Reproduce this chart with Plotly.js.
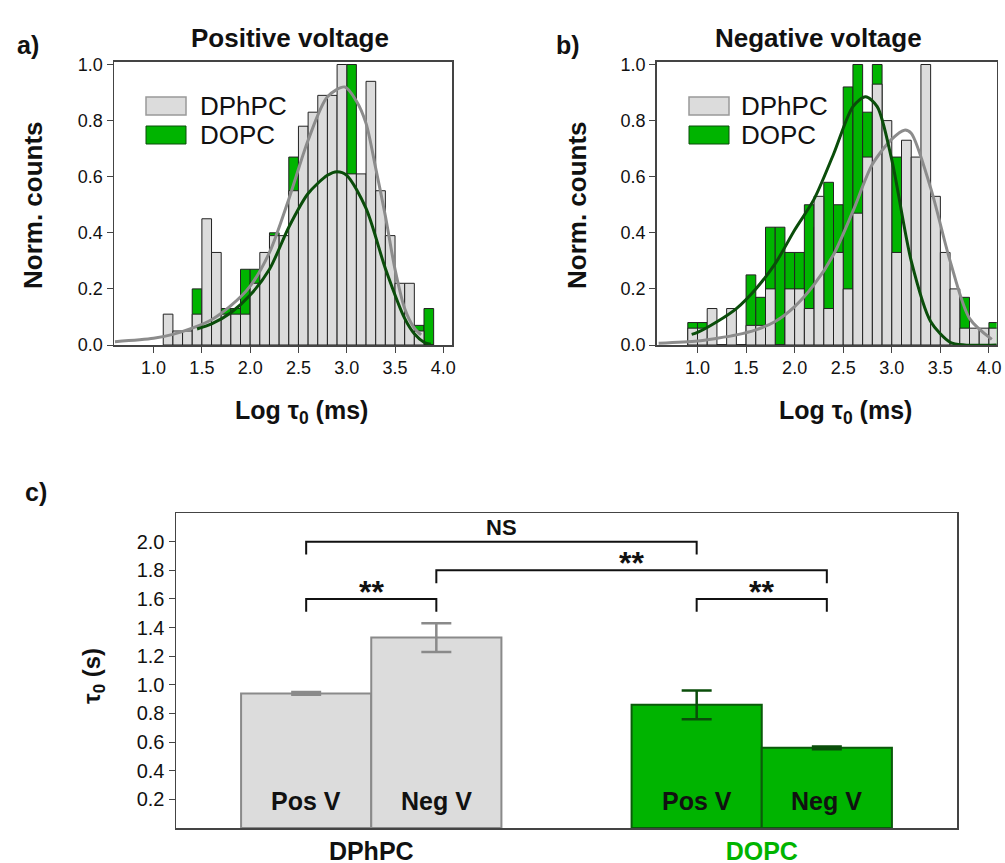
<!DOCTYPE html>
<html>
<head>
<meta charset="utf-8">
<script src="https://cdn.plot.ly/plotly-3.0.1.min.js"></script>
<style>html,body{margin:0;padding:0;background:#fff;}#chart{width:1005px;height:863px;}</style>
</head>
<body>
<div id="chart"></div>
<script>
// ---------------- data ----------------
// Panel a: positive voltage, bin centres (log tau0, ms), normalised counts
const binsA = [1.15,1.25,1.35,1.45,1.55,1.65,1.75,1.85,1.95,2.05,2.15,2.25,2.35,2.45,2.55,2.65,2.75,2.85,2.95,3.05,3.15,3.25,3.35,3.45,3.55,3.65,3.75,3.85];
const posDPhPC = [0.11,0.05,0.05,0.11,0.45,0.33,0.11,0.11,0.11,0.22,0.33,0.39,0.39,0.55,0.78,0.83,0.89,0.89,1.00,0.61,0.61,0.94,0.55,0.39,0.22,0.22,0.05,0.00];
const posDOPC  = [0,0,0,0.20,0,0,0.13,0.13,0.27,0.27,0.20,0.40,0.33,0.67,0.47,0.53,0.60,0.47,0.67,1.00,0.47,0.40,0.33,0.20,0.13,0.07,0.07,0.13];
const fitPosDPhPCx = [0.6,1.0,1.2,1.4,1.6,1.8,2.0,2.2,2.4,2.6,2.8,2.98,3.1,3.2,3.3,3.4,3.5,3.6,3.7,3.77];
const fitPosDPhPCy = [0.012,0.024,0.038,0.06,0.09,0.14,0.21,0.33,0.52,0.73,0.885,0.92,0.87,0.79,0.63,0.46,0.27,0.13,0.06,0.036];
const fitPosDOPCx = [1.45,1.6,1.8,2.0,2.2,2.4,2.6,2.8,2.9,3.0,3.2,3.4,3.6,3.7,3.8,3.87];
const fitPosDOPCy = [0.057,0.075,0.115,0.178,0.27,0.42,0.54,0.605,0.618,0.605,0.487,0.273,0.095,0.04,0.01,0.003];

// Panel b: negative voltage
const binsB = [0.95,1.05,1.15,1.25,1.35,1.45,1.55,1.65,1.75,1.85,1.95,2.05,2.15,2.25,2.35,2.45,2.55,2.65,2.75,2.85,2.95,3.05,3.15,3.25,3.35,3.45,3.55,3.65,3.75,3.85,3.95,4.05];
const negDPhPC = [0.06,0.06,0.13,0,0.13,0,0.07,0.07,0.20,0,0.20,0.20,0.13,0.53,0.13,0.33,0.20,0.47,0.67,0.93,0.80,0.33,0.73,0.67,1.00,0.53,0.33,0.20,0.06,0.06,0.06,0.06];
const negDOPC  = [0.08,0.08,0,0,0,0,0.25,0.17,0.42,0.42,0.33,0.33,0.50,0.42,0.58,0.50,0.92,1.00,0.83,1.00,0.67,0.67,0.25,0.17,0.08,0,0,0,0.17,0,0,0.08];
const fitNegDPhPCx = [0.6,1.0,1.2,1.4,1.6,1.8,2.0,2.2,2.4,2.6,2.8,3.0,3.13,3.2,3.4,3.6,3.8,4.03];
const fitNegDPhPCy = [0.006,0.014,0.024,0.036,0.054,0.084,0.137,0.215,0.322,0.477,0.644,0.734,0.766,0.755,0.56,0.30,0.095,0.02];
const fitNegDOPCx = [0.94,1.0,1.2,1.4,1.6,1.8,2.0,2.2,2.4,2.6,2.73,2.85,3.0,3.2,3.4,3.6,3.75,4.08];
const fitNegDOPCy = [0.038,0.045,0.083,0.13,0.2,0.29,0.41,0.52,0.68,0.85,0.885,0.85,0.66,0.30,0.084,0.01,0,0];

// Panel c: tau0 (s)
const lipids = ['DPhPC','DOPC'];
const conditions = ['Pos V','Neg V'];
const tauDPhPC = [0.94, 1.33];
const errDPhPC = [0.01, 0.10];
const tauDOPC  = [0.86, 0.56];
const errDOPC  = [0.10, 0.01];
// comparisons: [lipidA, condA, lipidB, condB, label, bracket level]
const comparisons = [
  [0,0,1,0,'NS',2.0],
  [0,1,1,1,'**',1.8],
  [0,0,0,1,'**',1.6],
  [1,0,1,1,'**',1.6]
];
const histTicks = [1.0,1.5,2.0,2.5,3.0,3.5,4.0];
const countTicks = [0,0.2,0.4,0.6,0.8,1.0];
const tauTicks = [0.2,0.4,0.6,0.8,1.0,1.2,1.4,1.6,1.8,2.0];

// ---------------- styling ----------------
const W = 1005, H = 863;
const px = x => x / W, py = y => 1 - y / H;
const GRAY = '#dcdcdc', GREEN = '#00b400', FITGRAY = '#8c8c8c', FITGREEN = '#0a4d0a';
const SANS = 'Liberation Sans, Arial, sans-serif';
const FRAME = '#444';

function histTraces(bins, dphpc, dopc, fx1, fy1, fx2, fy2, xa, ya) {
  return [
    {type:'bar', x:bins, y:dopc, width:0.1, xaxis:xa, yaxis:ya, marker:{color:GREEN, line:{color:'#222', width:1}}, hoverinfo:'skip'},
    {type:'bar', x:bins, y:dphpc, width:0.1, xaxis:xa, yaxis:ya, marker:{color:GRAY, line:{color:'#222', width:1}}, hoverinfo:'skip'},
    {type:'scatter', mode:'lines', x:fx1, y:fy1, xaxis:xa, yaxis:ya, line:{color:FITGRAY, width:3, shape:'spline', smoothing:0.8}},
    {type:'scatter', mode:'lines', x:fx2, y:fy2, xaxis:xa, yaxis:ya, line:{color:FITGREEN, width:3, shape:'spline', smoothing:0.8}}
  ];
}

const traces = [];
traces.push(...histTraces(binsA, posDPhPC, posDOPC, fitPosDPhPCx, fitPosDPhPCy, fitPosDOPCx, fitPosDOPCy, 'x', 'y'));
traces.push(...histTraces(binsB, negDPhPC, negDOPC, fitNegDPhPCx, fitNegDPhPCy, fitNegDOPCx, fitNegDOPCy, 'x2', 'y2'));

// panel c bars
const barPos = (g, c) => 1 + 3 * g + c;
const tauSets = [tauDPhPC, tauDOPC], errSets = [errDPhPC, errDOPC];
const fills = [GRAY, GREEN], outlines = ['#8a8a8a', '#0b5a0b'], errCols = ['#8a8a8a', '#0a4d0a'];
const annotations = [];
lipids.forEach((lip, g) => {
  traces.push({
    type:'bar', x:conditions.map((c, i) => barPos(g, i)), y:tauSets[g], width:1, xaxis:'x3', yaxis:'y3',
    marker:{color:fills[g], line:{color:outlines[g], width:2}},
    error_y:{type:'data', array:errSets[g], visible:true, color:errCols[g], thickness:2.5, width:15},
    hoverinfo:'skip'
  });
  conditions.forEach((c, i) => {
    annotations.push({xref:'x3', yref:'y3', x:barPos(g, i), y:0.19, xanchor:'center', yanchor:'middle',
      text:'<b>' + c + '</b>', showarrow:false, font:{family:SANS, size:25, color:'#111'}});
  });
});
// significance brackets
comparisons.forEach(([g1, c1, g2, c2, lab, lev]) => {
  const xa = barPos(g1, c1), xb = barPos(g2, c2);
  traces.push({type:'scatter', mode:'lines', x:[xa, xa, xb, xb], y:[lev - 0.09, lev, lev, lev - 0.09],
    xaxis:'x3', yaxis:'y3', line:{color:'#111', width:2}, hoverinfo:'skip'});
  const isNS = lab === 'NS';
  annotations.push({xref:'x3', yref:'y3', x:(xa + xb) / 2, y:lev + (isNS ? 0.1 : 0.05), xanchor:'center', yanchor:'middle',
    text:'<b>' + lab + '</b>', showarrow:false, font:{family:SANS, size:isNS ? 22 : 32, color:'#111'}});
});

// legends for histograms (boxes + text)
const shapes = [];
[[146, 198], [689, 739]].forEach(([bx, tx]) => {
  shapes.push({type:'rect', xref:'paper', yref:'paper', x0:px(bx), x1:px(bx + 40), y0:py(115), y1:py(97), fillcolor:GRAY, line:{color:'#999', width:1.5}});
  shapes.push({type:'rect', xref:'paper', yref:'paper', x0:px(bx), x1:px(bx + 40), y0:py(144), y1:py(126), fillcolor:GREEN, line:{color:'#0a4d0a', width:1}});
  annotations.push({xref:'paper', yref:'paper', x:px(tx), y:py(106), xanchor:'left', yanchor:'middle', text:'DPhPC', showarrow:false, font:{family:SANS, size:26, color:'#111'}});
  annotations.push({xref:'paper', yref:'paper', x:px(tx), y:py(135), xanchor:'left', yanchor:'middle', text:'DOPC', showarrow:false, font:{family:SANS, size:26, color:'#111'}});
});

// titles and labels
const T = (x, y, text, size, extra) => Object.assign({xref:'paper', yref:'paper', x:px(x), y:py(y), text, showarrow:false,
  xanchor:'center', yanchor:'middle', font:{family:SANS, size, color:'#111'}}, extra || {});
annotations.push(T(28, 45, '<b>a)</b>', 25));
annotations.push(T(568, 45, '<b>b)</b>', 25));
annotations.push(T(36, 492, '<b>c)</b>', 25));
annotations.push(T(290, 38, '<b>Positive voltage</b>', 26));
annotations.push(T(818, 38, '<b>Negative voltage</b>', 26));
annotations.push(T(301, 412, '<b>Log τ<sub>0</sub> (ms)</b>', 25));
annotations.push(T(845, 412, '<b>Log τ<sub>0</sub> (ms)</b>', 25));
annotations.push(T(33, 205, '<b>Norm. counts</b>', 26, {textangle:-90}));
annotations.push(T(577, 205, '<b>Norm. counts</b>', 26, {textangle:-90}));
annotations.push(T(93, 676, '<b>τ<sub>0</sub> (s)</b>', 24, {textangle:-90}));

const histX = (dom, range, anchor) => ({domain:dom, range, anchor, tickvals:histTicks, ticktext:histTicks.map(v => v.toFixed(1)),
  ticks:'outside', ticklen:6, tickcolor:FRAME, showline:true, linecolor:FRAME, linewidth:1.5, mirror:true, showgrid:false, zeroline:false,
  tickfont:{family:SANS, size:18, color:'#111'}});
const histY = (dom, anchor) => ({domain:dom, range:[0, 1.01], anchor, tickvals:countTicks, ticktext:countTicks.map(v => v.toFixed(1)),
  ticks:'outside', ticklen:6, tickcolor:FRAME, showline:true, linecolor:FRAME, linewidth:1.5, mirror:true, showgrid:false, zeroline:false,
  tickfont:{family:SANS, size:18, color:'#111'}});

const layout = {
  width:W, height:H, margin:{l:0, r:0, t:0, b:0}, paper_bgcolor:'#fff', plot_bgcolor:'#fff',
  showlegend:false, barmode:'overlay', bargap:0,
  xaxis: histX([px(114), px(452)], [0.59, 4.09], 'y'),
  yaxis: histY([py(345), py(61.7)], 'x'),
  xaxis2: histX([px(656.7), px(996.7)], [0.58, 4.08], 'y2'),
  yaxis2: histY([py(345), py(61.7)], 'x2'),
  xaxis3: {domain:[px(176), px(957)], range:[0, 6.0], anchor:'y3',
    tickvals:lipids.map((l, g) => barPos(g, 0.5)),
    ticktext:['<b>DPhPC</b>', '<b><span style="color:#00b400">DOPC</span></b>'],
    ticks:'', showline:true, linecolor:FRAME, linewidth:1.5, mirror:true, showgrid:false, zeroline:false,
    tickfont:{family:SANS, size:25, color:'#111'}},
  yaxis3: {domain:[py(828), py(513)], range:[0, 2.2], anchor:'x3', tickvals:tauTicks, ticktext:tauTicks.map(v => v.toFixed(1)),
    ticks:'outside', ticklen:6, tickcolor:FRAME, showline:true, linecolor:FRAME, linewidth:1.5, mirror:true, showgrid:false, zeroline:false,
    tickfont:{family:SANS, size:20, color:'#111'}},
  shapes, annotations
};

Plotly.newPlot('chart', traces, layout, {staticPlot:true, displayModeBar:false});
</script>
</body>
</html>
